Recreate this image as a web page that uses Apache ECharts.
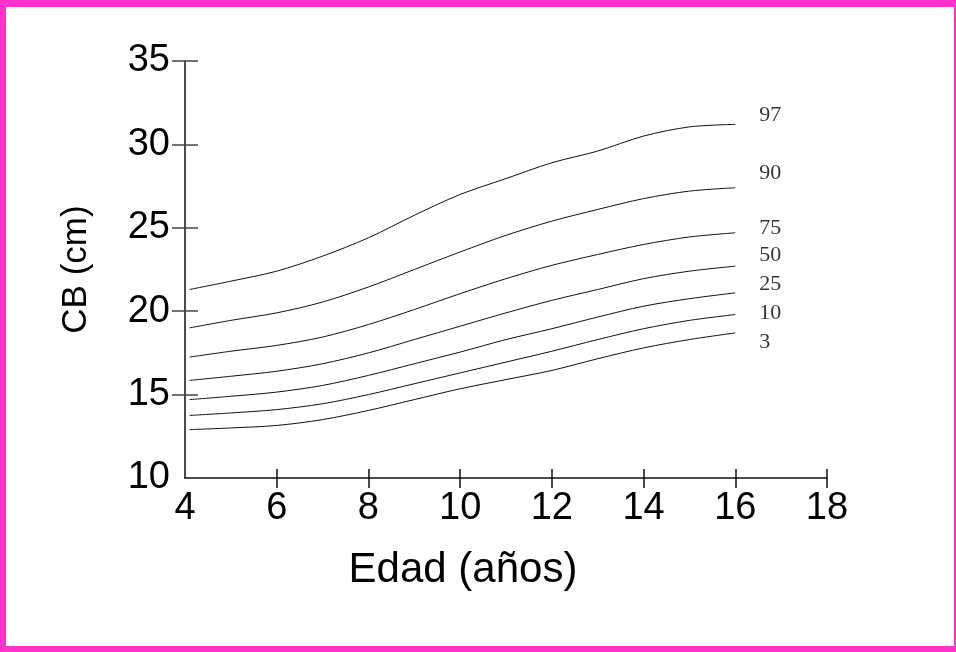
<!DOCTYPE html>
<html>
<head>
<meta charset="utf-8">
<script src="https://cdn.jsdelivr.net/npm/echarts@6/dist/echarts.min.js"></script>
<style>
  html, body { margin: 0; padding: 0; background: #fff; }
  #chart { position: absolute; left: 0; top: 0; width: 956px; height: 652px; }
  #frame {
    position: absolute; left: 0; top: 0; width: 956px; height: 652px; box-sizing: border-box;
    border-style: solid; border-color: #FF33CC; border-width: 7px 2px 6px 6px; pointer-events: none;
  }
</style>
</head>
<body>
<div id="chart"></div>
<div id="frame"></div>
<script>
// percentiles of CB (cm) by age
const AGES = [4.1, 5, 6, 7, 8, 9, 10, 11, 12, 13, 14, 15, 16];
const P97 = [21.3, 21.8, 22.4, 23.3, 24.4, 25.75, 27.0, 27.95, 28.9, 29.6, 30.5, 31.05, 31.2];
const P90 = [19.0, 19.45, 19.9, 20.55, 21.45, 22.5, 23.55, 24.55, 25.4, 26.1, 26.75, 27.2, 27.4];
const P75 = [17.25, 17.6, 17.95, 18.45, 19.2, 20.1, 21.05, 21.95, 22.75, 23.4, 24.0, 24.45, 24.7];
const P50 = [15.85, 16.1, 16.4, 16.85, 17.5, 18.3, 19.1, 19.9, 20.65, 21.3, 21.95, 22.4, 22.7];
const P25 = [14.7, 14.9, 15.15, 15.55, 16.15, 16.85, 17.55, 18.3, 18.95, 19.65, 20.3, 20.75, 21.1];
const P10 = [13.75, 13.9, 14.1, 14.45, 15.0, 15.65, 16.3, 16.95, 17.6, 18.3, 18.95, 19.45, 19.8];
const P3  = [12.9, 13.0, 13.15, 13.5, 14.05, 14.7, 15.35, 15.9, 16.45, 17.15, 17.8, 18.3, 18.7];
const CURVES = [P97, P90, P75, P50, P25, P10, P3];
const CURVE_NAMES = ['97', '90', '75', '50', '25', '10', '3'];
// where the percentile names sit
const NAME_X = 16.52;
const NAME_Y = [31.75, 28.3, 25.0, 23.35, 21.6, 19.9, 18.15];

const X_TICKS = [6, 8, 10, 12, 14, 16, 18];
const Y_TICKS = [15, 20, 25, 30, 35];

const chart = echarts.init(document.getElementById('chart'), null, { renderer: 'canvas' });

const xBase = { type: 'value', min: 4, max: 18, interval: 2, position: 'bottom' };
const yBase = { type: 'value', min: 10, max: 35, interval: 5, position: 'left' };

const lineSeries = CURVES.map((vals, k) => ({
  type: 'line', name: CURVE_NAMES[k], smooth: 0.3, symbol: 'none',
  lineStyle: { color: '#111', width: 1 },
  data: AGES.map((a, i) => [a, vals[i]]),
  silent: true,
}));

chart.setOption({
  backgroundColor: '#fff',
  animation: false,
  grid: { left: 185, right: 129, top: 61, bottom: 174, outerBoundsMode: 'none' },
  xAxis: [
    {
      ...xBase,
      axisLine: { show: true, lineStyle: { color: '#111', width: 1.5 } },
      axisTick: { show: true, inside: false, length: 10, customValues: X_TICKS, lineStyle: { color: '#111', width: 1.5 } },
      axisLabel: { color: '#000', fontSize: 38, fontFamily: 'Liberation Sans', margin: 12 },
      splitLine: { show: false },
      name: 'Edad (años)', nameLocation: 'middle', nameGap: 71,
      nameTextStyle: { color: '#000', fontSize: 42, fontFamily: 'Liberation Sans', padding: [0, 86, 0, 0] },
    },
    {
      ...xBase,
      axisLine: { show: false },
      axisTick: { show: true, inside: true, length: 9, customValues: X_TICKS, lineStyle: { color: '#111', width: 1.5 } },
      axisLabel: { show: false },
      splitLine: { show: false },
    },
  ],
  yAxis: [
    {
      ...yBase,
      axisLine: { show: true, lineStyle: { color: '#111', width: 1.5 } },
      axisTick: { show: true, inside: false, length: 13, customValues: Y_TICKS, lineStyle: { color: '#444', width: 1.5 } },
      axisLabel: { color: '#000', fontSize: 38, fontFamily: 'Liberation Sans', margin: 15 },
      splitLine: { show: false },
      name: 'CB (cm)', nameLocation: 'middle', nameGap: 91,
      nameTextStyle: { color: '#000', fontSize: 35, fontFamily: 'Liberation Sans' },
    },
    {
      ...yBase,
      axisLine: { show: false },
      axisTick: { show: true, inside: true, length: 13, customValues: Y_TICKS, lineStyle: { color: '#444', width: 1.5 } },
      axisLabel: { show: false },
      splitLine: { show: false },
    },
  ],
  series: [
    ...lineSeries,
    {
      type: 'scatter', symbolSize: 0, silent: true,
      data: NAME_Y.map((y, k) => ({ value: [NAME_X, y], name: CURVE_NAMES[k] })),
      label: {
        show: true, position: 'right', distance: 0, formatter: p => p.name,
        color: '#000', fontSize: 22, fontFamily: 'Liberation Serif', align: 'left', verticalAlign: 'middle',
      },
    },
  ],
});
</script>
</body>
</html>
